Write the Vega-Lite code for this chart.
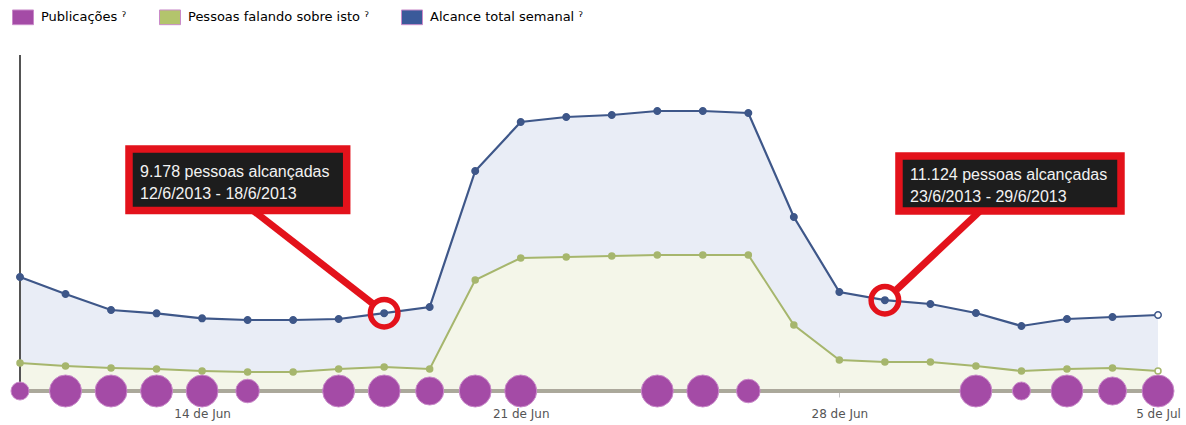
{
  "$schema": "https://vega.github.io/schema/vega-lite/v6.json",
  "width": 1138,
  "height": 336,
  "autosize": {"type": "none"},
  "padding": {"left": 20, "top": 55, "right": 28, "bottom": 34},
  "background": "white",
  "config": {"view": {"stroke": null}, "font": "DejaVu Sans"},
  "datasets": {
    "semana": [
      {"date": "2013-06-10", "alcance": 14600, "pessoas": 280, "publicacoes": 1},
      {"date": "2013-06-11", "alcance": 12050, "pessoas": 250, "publicacoes": 4},
      {"date": "2013-06-12", "alcance": 9650, "pessoas": 230, "publicacoes": 4},
      {"date": "2013-06-13", "alcance": 9150, "pessoas": 220, "publicacoes": 4},
      {"date": "2013-06-14", "alcance": 8400, "pessoas": 200, "publicacoes": 4},
      {"date": "2013-06-15", "alcance": 8150, "pessoas": 190, "publicacoes": 2},
      {"date": "2013-06-16", "alcance": 8150, "pessoas": 190, "publicacoes": null},
      {"date": "2013-06-17", "alcance": 8300, "pessoas": 220, "publicacoes": 4},
      {"date": "2013-06-18", "alcance": 9178, "pessoas": 240, "publicacoes": 4},
      {"date": "2013-06-19", "alcance": 10100, "pessoas": 220, "publicacoes": 3},
      {"date": "2013-06-20", "alcance": 30500, "pessoas": 1110, "publicacoes": 4},
      {"date": "2013-06-21", "alcance": 37850, "pessoas": 1330, "publicacoes": 4},
      {"date": "2013-06-22", "alcance": 38600, "pessoas": 1340, "publicacoes": null},
      {"date": "2013-06-23", "alcance": 38900, "pessoas": 1350, "publicacoes": null},
      {"date": "2013-06-24", "alcance": 39500, "pessoas": 1360, "publicacoes": 4},
      {"date": "2013-06-25", "alcance": 39500, "pessoas": 1360, "publicacoes": 4},
      {"date": "2013-06-26", "alcance": 39200, "pessoas": 1360, "publicacoes": 2},
      {"date": "2013-06-27", "alcance": 23600, "pessoas": 660, "publicacoes": null},
      {"date": "2013-06-28", "alcance": 12350, "pessoas": 310, "publicacoes": null},
      {"date": "2013-06-29", "alcance": 11124, "pessoas": 290, "publicacoes": null},
      {"date": "2013-06-30", "alcance": 10550, "pessoas": 290, "publicacoes": null},
      {"date": "2013-07-01", "alcance": 9200, "pessoas": 250, "publicacoes": 4},
      {"date": "2013-07-02", "alcance": 7250, "pessoas": 200, "publicacoes": 1},
      {"date": "2013-07-03", "alcance": 8300, "pessoas": 220, "publicacoes": 4},
      {"date": "2013-07-04", "alcance": 8600, "pessoas": 230, "publicacoes": 3},
      {"date": "2013-07-05", "alcance": 8900, "pessoas": 200, "publicacoes": 4}
    ],
    "notas": [
      {"alvo_data": "2013-06-18", "alvo_valor": 9178, "caixa_x1": "2013-06-12T09:28Z", "caixa_x2": "2013-06-17T04:15Z", "caixa_y1": 33800, "caixa_y2": 24590, "linha_x1": "2013-06-15T02:51Z", "linha_y1": 24590, "linha_x2": "2013-06-17T17:44Z", "linha_y2": 10670},
      {"alvo_data": "2013-06-29", "alvo_valor": 11124, "caixa_x1": "2013-06-29T07:26Z", "caixa_x2": "2013-07-04T04:29Z", "caixa_y1": 32750, "caixa_y2": 24500, "linha_x1": "2013-07-01T02:10Z", "linha_y1": 24500, "linha_x2": "2013-06-29T06:11Z", "linha_y2": 12700}
    ],
    "textos": [
      {"texto": "9.178 pessoas alcançadas", "tx": "2013-06-12T15:16Z", "ty": 29600},
      {"texto": "12/6/2013 - 18/6/2013", "tx": "2013-06-12T15:16Z", "ty": 26300},
      {"texto": "11.124 pessoas alcançadas", "tx": "2013-06-29T13:15Z", "ty": 29150},
      {"texto": "23/6/2013 - 29/6/2013", "tx": "2013-06-29T13:15Z", "ty": 25850}
    ]
  },
  "layer": [
    {
      "data": {"name": "semana"},
      "mark": {"type": "area", "color": "#e9edf6"},
      "encoding": {
        "x": {
          "field": "date", "type": "temporal",
          "scale": {"type": "utc", "domain": [{"year": 2013, "month": 6, "date": 10, "utc": true}, {"year": 2013, "month": 7, "date": 5, "utc": true}]},
          "axis": {
            "title": null, "domain": false, "grid": false,
            "values": [{"year": 2013, "month": 6, "date": 14, "utc": true}, {"year": 2013, "month": 6, "date": 21, "utc": true}, {"year": 2013, "month": 6, "date": 28, "utc": true}, {"year": 2013, "month": 7, "date": 5, "utc": true}],
            "labelExpr": "utcdate(datum.value) + ' de ' + (utcmonth(datum.value) == 5 ? 'Jun' : 'Jul')",
            "tickColor": "#c4c4c4", "tickSize": 6, "tickWidth": 1,
            "labelPadding": 11, "labelFontSize": 12, "labelColor": "#555555", "labelFont": "DejaVu Sans",
            "labelFlush": false, "labelOverlap": false
          }
        },
        "y": {"field": "alcance", "type": "quantitative", "scale": {"domain": [-2500, 47900], "nice": false, "zero": false}, "axis": null},
        "y2": {"datum": -2500}
      }
    },
    {
      "data": {"name": "semana"},
      "mark": {"type": "area", "color": "#f4f6e9"},
      "encoding": {
        "x": {"field": "date", "type": "temporal"},
        "y": {"field": "pessoas", "type": "quantitative", "scale": {"domain": [0, 3360], "nice": false}, "axis": null}
      }
    },
    {
      "data": {"name": "semana"},
      "mark": {"type": "rule", "color": "#555555", "strokeWidth": 1},
      "encoding": {
        "x": {"datum": {"year": 2013, "month": 6, "date": 10, "utc": true}, "type": "temporal"},
        "y": {"datum": -2500, "type": "quantitative", "scale": {"domain": [-2500, 47900], "nice": false, "zero": false}, "axis": null},
        "y2": {"datum": 47900}
      }
    },
    {
      "data": {"name": "semana"},
      "mark": {"type": "rule", "color": "#aaa99a", "strokeWidth": 2.5},
      "encoding": {
        "x": {"datum": {"year": 2013, "month": 6, "date": 10, "utc": true}, "type": "temporal"},
        "x2": {"datum": {"year": 2013, "month": 7, "date": 5, "utc": true}},
        "y": {"datum": 0, "type": "quantitative", "scale": {"domain": [0, 3360], "nice": false}, "axis": null}
      }
    },
    {
      "data": {"name": "semana"},
      "mark": {"type": "line", "color": "#a6b66d", "strokeWidth": 2},
      "encoding": {
        "x": {"field": "date", "type": "temporal"},
        "y": {"field": "pessoas", "type": "quantitative", "scale": {"domain": [0, 3360], "nice": false}, "axis": null}
      }
    },
    {
      "data": {"name": "semana"},
      "mark": {"type": "point", "shape": "circle", "size": 36, "stroke": "#a6b66d", "strokeWidth": 1.5, "opacity": 1},
      "encoding": {
        "x": {"field": "date", "type": "temporal"},
        "y": {"field": "pessoas", "type": "quantitative", "scale": {"domain": [0, 3360], "nice": false}, "axis": null},
        "fill": {"condition": {"test": "utcmonth(datum.date) == 6 && utcdate(datum.date) == 5", "value": "#ffffff"}, "value": "#a6b66d"}
      }
    },
    {
      "data": {"name": "semana"},
      "mark": {"type": "line", "color": "#3e5789", "strokeWidth": 2.2},
      "encoding": {
        "x": {"field": "date", "type": "temporal"},
        "y": {"field": "alcance", "type": "quantitative", "scale": {"domain": [-2500, 47900], "nice": false, "zero": false}, "axis": null}
      }
    },
    {
      "data": {"name": "semana"},
      "mark": {"type": "point", "shape": "circle", "size": 42, "stroke": "#3e5789", "strokeWidth": 1.5, "opacity": 1},
      "encoding": {
        "x": {"field": "date", "type": "temporal"},
        "y": {"field": "alcance", "type": "quantitative", "scale": {"domain": [-2500, 47900], "nice": false, "zero": false}, "axis": null},
        "fill": {"condition": {"test": "utcmonth(datum.date) == 6 && utcdate(datum.date) == 5", "value": "#ffffff"}, "value": "#3e5789"}
      }
    },
    {
      "data": {"name": "semana"},
      "transform": [{"filter": "datum.publicacoes > 0"}],
      "mark": {"type": "circle", "stroke": "#c98ac9", "strokeWidth": 1, "opacity": 1},
      "encoding": {
        "x": {"field": "date", "type": "temporal"},
        "y": {"datum": 0, "type": "quantitative", "scale": {"domain": [0, 3360], "nice": false}, "axis": null},
        "size": {"field": "publicacoes", "type": "quantitative", "scale": {"domain": [1, 4], "range": [324, 1024]}, "legend": null},
        "color": {
          "datum": "Publicações", "type": "nominal",
          "scale": {"domain": ["Publicações", "Pessoas falando sobre isto", "Alcance total semanal"], "range": ["#a44ba6", "#b3c46c", "#3b5a9a"]},
          "legend": {
            "title": null, "orient": "none", "legendX": -8, "legendY": -49, "direction": "horizontal", "padding": 0,
            "symbolType": "M-1,-0.7H1V0.7H-1Z", "symbolSize": 441, "symbolStrokeWidth": 1, "symbolOpacity": 1,
            "labelFont": "DejaVu Sans", "labelFontSize": 13, "labelOffset": 7, "columnPadding": 30, "labelLimit": 400,
            "labelExpr": "datum.label + ' ˀ'",
            "encode": {
              "labels": {"update": {"fill": {"signal": "datum.value === 'Publicações' ? '#9a4a9c' : datum.value === 'Pessoas falando sobre isto' ? '#a9ba72' : '#33415f'"}}},
              "symbols": {"update": {"stroke": {"signal": "datum.value === 'Publicações' ? '#7f3181' : datum.value === 'Pessoas falando sobre isto' ? '#d2dba8' : '#2a4682'"}}}
            }
          }
        }
      }
    },
    {
      "data": {"name": "notas"},
      "mark": {"type": "rule", "color": "#e3121b", "strokeWidth": 7},
      "encoding": {
        "x": {"field": "linha_x1", "type": "temporal"},
        "x2": {"field": "linha_x2"},
        "y": {"field": "linha_y1", "type": "quantitative", "scale": {"domain": [-2500, 47900], "nice": false, "zero": false}, "axis": null},
        "y2": {"field": "linha_y2"}
      }
    },
    {
      "data": {"name": "notas"},
      "mark": {"type": "rect", "fill": "#1d1d1d", "stroke": "#e3121b", "strokeWidth": 7.5},
      "encoding": {
        "x": {"field": "caixa_x1", "type": "temporal"},
        "x2": {"field": "caixa_x2"},
        "y": {"field": "caixa_y1", "type": "quantitative", "scale": {"domain": [-2500, 47900], "nice": false, "zero": false}, "axis": null},
        "y2": {"field": "caixa_y2"}
      }
    },
    {
      "data": {"name": "textos"},
      "mark": {"type": "text", "align": "left", "baseline": "alphabetic", "font": "Liberation Sans", "fontSize": 16, "color": "#f2f2f2"},
      "encoding": {
        "x": {"field": "tx", "type": "temporal"},
        "y": {"field": "ty", "type": "quantitative", "scale": {"domain": [-2500, 47900], "nice": false, "zero": false}, "axis": null},
        "text": {"field": "texto"}
      }
    },
    {
      "data": {"name": "notas"},
      "mark": {"type": "point", "shape": "circle", "filled": false, "stroke": "#e3121b", "strokeWidth": 5.5, "size": 756, "opacity": 1},
      "encoding": {
        "x": {"field": "alvo_data", "type": "temporal"},
        "y": {"field": "alvo_valor", "type": "quantitative", "scale": {"domain": [-2500, 47900], "nice": false, "zero": false}, "axis": null}
      }
    }
  ],
  "resolve": {"scale": {"y": "independent"}}
}
